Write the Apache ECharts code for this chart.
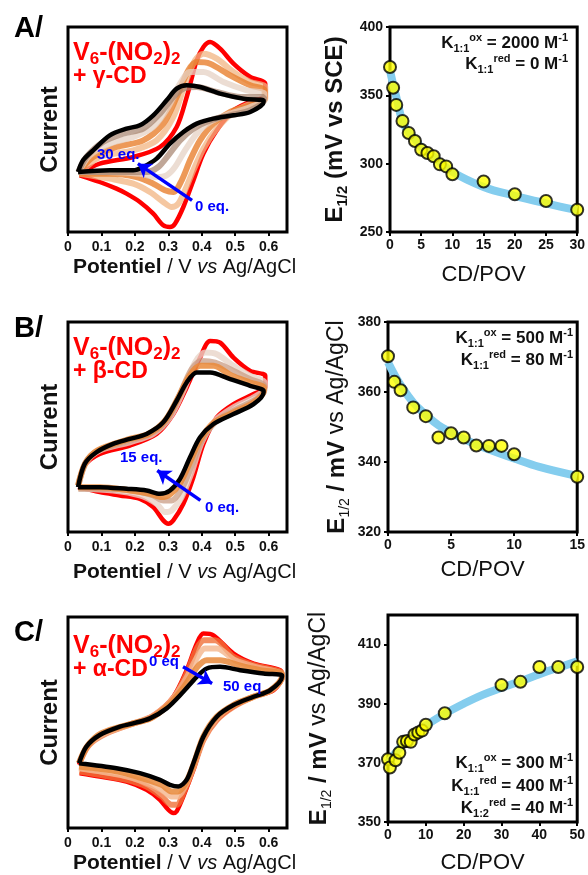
<!DOCTYPE html>
<html>
<head>
<meta charset="utf-8">
<script src="https://cdn.jsdelivr.net/npm/echarts@6/dist/echarts.min.js"></script>
<style>html,body{margin:0;background:#fff}#c{width:588px;height:875px}</style>
</head>
<body>
<div id="c"></div>
<script>
(function(){
var F = '"Liberation Sans", Arial, sans-serif';

// ---- CV curves, [potential V, current a.u.] (upper branch then return) ----
var cvA_red = [[0.035,35],[0.095,41],[0.195,45],[0.275,51],[0.325,63],[0.355,81],[0.385,103],[0.405,111],[0.425,114],[0.455,110],[0.495,101],[0.545,93],[0.59,89],[0.59,81],[0.555,79],[0.495,73],[0.445,61],[0.405,47],[0.375,31],[0.345,15],[0.32,5],[0.305,3],[0.285,4],[0.255,11],[0.215,18],[0.175,23],[0.145,26],[0.095,30],[0.035,34]];
var cvA_m1 = [[0.035,35],[0.095,45],[0.195,49],[0.265,55],[0.315,69],[0.35,89],[0.38,103],[0.405,107],[0.445,104],[0.495,96],[0.545,90],[0.59,87],[0.59,80],[0.545,77],[0.495,72],[0.445,62],[0.405,50],[0.375,37],[0.35,25],[0.33,17],[0.31,15],[0.285,18],[0.245,24],[0.195,29],[0.125,32],[0.035,35]];
var cvA_m2 = [[0.033,36],[0.075,45],[0.145,51],[0.225,55],[0.285,65],[0.325,81],[0.36,97],[0.385,102],[0.425,101],[0.485,94],[0.545,88],[0.588,85],[0.588,80],[0.545,76],[0.485,72],[0.435,65],[0.395,55],[0.365,43],[0.34,31],[0.315,24],[0.29,25],[0.255,29],[0.205,33],[0.125,35],[0.033,35]];
var cvA_m3 = [[0.032,36],[0.065,46],[0.125,53],[0.195,57],[0.255,63],[0.30,75],[0.335,89],[0.365,96],[0.405,96],[0.465,90],[0.535,85],[0.587,83],[0.587,79],[0.545,75],[0.485,71],[0.425,66],[0.385,59],[0.35,49],[0.32,39],[0.295,34],[0.265,33],[0.215,35],[0.125,36],[0.032,36]];
var cvA_m4 = [[0.031,36],[0.055,45],[0.105,54],[0.165,59],[0.225,62],[0.275,71],[0.315,81],[0.345,86],[0.385,87],[0.445,84],[0.515,81],[0.586,81],[0.586,79],[0.545,73],[0.485,70],[0.425,67],[0.375,62],[0.335,55],[0.30,46],[0.27,39],[0.235,36],[0.175,36],[0.095,36],[0.031,36]];
var cvA_black = [[0.03,36],[0.045,43],[0.075,49],[0.125,58],[0.175,62],[0.215,64],[0.255,70],[0.295,79],[0.325,86],[0.355,88],[0.395,87],[0.455,83],[0.525,80],[0.585,79],[0.585,78],[0.545,72],[0.495,70],[0.435,68],[0.385,65],[0.345,60],[0.305,53],[0.265,44],[0.225,39],[0.195,37],[0.125,37],[0.03,36]];

var cvB_red = [[0.03,28],[0.05,40],[0.095,47],[0.185,52],[0.265,59],[0.315,71],[0.355,87],[0.395,105],[0.425,115],[0.455,114],[0.495,105],[0.545,97],[0.59,94],[0.59,87],[0.555,83],[0.495,77],[0.445,69],[0.405,53],[0.375,33],[0.345,17],[0.315,7],[0.30,5],[0.285,7],[0.255,15],[0.215,20],[0.155,22],[0.095,24],[0.03,27]];
var cvB_m1 = [[0.032,29],[0.055,42],[0.095,49],[0.185,54],[0.255,59],[0.305,69],[0.345,85],[0.38,102],[0.41,108],[0.445,107],[0.495,100],[0.545,94],[0.588,90],[0.588,86],[0.555,81],[0.495,75],[0.44,67],[0.40,54],[0.37,36],[0.34,21],[0.31,13],[0.29,12],[0.265,17],[0.215,22],[0.135,25],[0.032,26]];
var cvB_m2 = [[0.031,28],[0.053,42],[0.09,49],[0.185,55],[0.245,59],[0.295,67],[0.335,83],[0.37,98],[0.40,103],[0.44,102],[0.495,97],[0.545,92],[0.587,88],[0.587,85],[0.555,79],[0.495,73],[0.44,66],[0.40,55],[0.37,40],[0.34,26],[0.31,19],[0.285,19],[0.255,22],[0.195,25],[0.095,26],[0.031,26]];
var cvB_m3 = [[0.03,28],[0.051,41],[0.087,49],[0.185,56],[0.24,59],[0.29,67],[0.33,81],[0.363,94],[0.395,100],[0.435,100],[0.49,94],[0.545,90],[0.586,87],[0.586,85],[0.555,78],[0.495,72],[0.437,66],[0.397,56],[0.367,43],[0.337,30],[0.307,23],[0.28,21],[0.245,23],[0.185,25],[0.095,27],[0.03,27]];
var cvB_black = [[0.03,27],[0.05,41],[0.085,48],[0.135,53],[0.185,56],[0.235,59],[0.285,66],[0.325,79],[0.355,90],[0.385,96],[0.425,96],[0.485,92],[0.545,88],[0.585,85],[0.585,84],[0.555,77],[0.495,71],[0.435,65],[0.395,57],[0.365,45],[0.335,32],[0.305,25],[0.275,23],[0.235,25],[0.175,26],[0.095,27],[0.03,27]];

var cvC_red = [[0.033,38],[0.065,51],[0.115,58],[0.195,63],[0.255,68],[0.315,79],[0.355,95],[0.385,111],[0.405,117],[0.435,116],[0.495,105],[0.555,99],[0.635,95],[0.64,91],[0.615,83],[0.555,79],[0.495,73],[0.445,65],[0.405,53],[0.375,35],[0.345,19],[0.325,10],[0.315,9],[0.30,11],[0.275,17],[0.235,23],[0.175,28],[0.095,31],[0.035,33]];
var cvC_m1 = [[0.034,39],[0.063,50],[0.115,57],[0.195,63],[0.255,67],[0.315,78],[0.355,93],[0.385,108],[0.407,113],[0.44,113],[0.495,103],[0.555,98],[0.637,94],[0.64,91],[0.61,83],[0.555,79],[0.495,73],[0.445,65],[0.405,53],[0.375,36],[0.347,22],[0.325,14],[0.31,14],[0.28,19],[0.235,25],[0.175,29],[0.095,32],[0.034,34]];
var cvC_m2 = [[0.033,39],[0.06,50],[0.11,57],[0.195,63],[0.25,67],[0.31,77],[0.353,90],[0.387,103],[0.41,108],[0.445,108],[0.50,101],[0.56,97],[0.638,93],[0.64,91],[0.607,83],[0.555,79],[0.495,74],[0.445,66],[0.405,54],[0.375,37],[0.35,25],[0.328,19],[0.31,19],[0.28,23],[0.225,28],[0.155,32],[0.033,36]];
var cvC_m3 = [[0.033,39],[0.057,49],[0.10,57],[0.195,63],[0.247,66],[0.30,74],[0.347,85],[0.387,97],[0.415,101],[0.455,101],[0.51,98],[0.575,95],[0.639,93],[0.64,91],[0.606,83],[0.555,79],[0.495,74],[0.445,67],[0.405,55],[0.375,38],[0.352,27],[0.33,22],[0.31,22],[0.28,26],[0.22,30],[0.15,34],[0.033,37]];
var cvC_black = [[0.033,39],[0.055,49],[0.095,56],[0.155,61],[0.195,63],[0.245,66],[0.295,72],[0.345,82],[0.385,91],[0.415,96],[0.455,97],[0.515,95],[0.585,93],[0.64,92],[0.64,91],[0.605,83],[0.555,79],[0.495,74],[0.445,67],[0.405,55],[0.375,39],[0.355,29],[0.33,25],[0.305,26],[0.275,29],[0.215,33],[0.145,36],[0.033,39]];

// ---- E1/2 titrations ----
var ptsA_x = [0,0.5,1,2,3,4,5,6,7,8,9,10,15,20,25,30];
var ptsA_y = [370.7,355.6,343,331.2,322.4,316.6,310.2,307.8,305.4,299.5,298,292.2,287,277.6,272.7,266.3];
var fitA_x = [0,0.5,1,2,3,4,5,7,10,15,20,25,30];
var fitA_y = [368,358,349,331,323,318,312,305,294,283,276.5,271,266];

var ptsB_x = [0,0.5,1,2,3,4,5,6,7,8,9,10,15];
var ptsB_y = [370.2,362.9,360.5,355.6,353.1,347,348.2,347,344.7,344.6,344.6,342.2,335.8];
var fitB_x = [0,0.5,1,2,3,4,5,6,7,8,10,12,15];
var fitB_y = [368.5,365,362,357,353.5,350.5,348.5,346.6,345,343.6,341,338.6,336];

var ptsC_x = [0,0.5,2,3,4,5,6,7,8,9,10,15,30,35,40,45,50];
var ptsC_y = [371.2,368.4,370.9,373.4,377.1,377.4,377.1,379.6,380.3,380.9,382.9,386.8,396.3,397.4,402.4,402.4,402.4];
var fitC_x = [0,1,2,5,10,15,20,25,30,35,40,45,50];
var fitC_y = [370,371.8,373.4,377.6,382.6,386.6,390,393,395.4,397.6,400,402.2,404.3];

// arrows (titration direction), data coords of the CV panels
var arrowA = [[0.371,19],[0.209,41]];
var arrowB = [[0.396,19],[0.267,37]];
var arrowC = [[0.344,97],[0.431,87]];

var zip = function(xs, ys){ return xs.map(function(x, i){ return [x, ys[i]]; }); };

var mychart = echarts.init(document.getElementById('c'));

function frame(l, t, w, h){
    return {left:l, top:t, width:w, height:h, show:true, borderColor:'#000', borderWidth:3, backgroundColor:'transparent'};
}
var tick = {show:true, length:4, lineStyle:{color:'#000', width:2}};
var lab = {color:'#111', fontSize:14, fontWeight:'bold', fontFamily:F};

function cvX(gi, gap){
    return {
        gridIndex: gi, type:'value', min:0, max:0.655, interval:0.1,
        axisLine:{show:false}, axisTick:tick, splitLine:{show:false},
        axisLabel: Object.assign({margin:8, showMaxLabel:false, formatter:function(v){ return String(+v.toFixed(1)); }}, lab),
        name:'{b|Potentiel} / V {i|vs} Ag/AgCl', nameLocation:'middle', nameGap:gap,
        nameTextStyle:{color:'#111', fontSize:20, fontFamily:F, padding:[0,0,0,14],
            rich:{b:{fontWeight:'bold', fontSize:21, fontFamily:F, color:'#111'},
                  i:{fontStyle:'italic', fontSize:20, fontFamily:F, color:'#111'}}}
    };
}
function cvY(gi, max){
    return {
        gridIndex: gi, type:'value', min:0, max:max,
        axisLine:{show:false}, axisTick:{show:false}, axisLabel:{show:false}, splitLine:{show:false},
        name:'Current', nameLocation:'middle', nameGap:6,
        nameTextStyle:{color:'#111', fontSize:24, fontWeight:'bold', fontFamily:F}
    };
}
function fX(gi, max, itv, gap){
    return {
        gridIndex: gi, type:'value', min:0, max:max, interval:itv,
        axisLine:{show:false}, axisTick:tick, splitLine:{show:false},
        axisLabel: Object.assign({margin:6}, lab),
        name:'CD/POV', nameLocation:'middle', nameGap:gap,
        nameTextStyle:{color:'#111', fontSize:22, fontFamily:F}
    };
}
var subRich = {
    b:{fontWeight:'bold', fontSize:24, fontFamily:F, color:'#111', lineHeight:30},
    s:{fontSize:14, fontFamily:F, color:'#111', verticalAlign:'bottom', lineHeight:14},
    sb:{fontSize:15, fontWeight:'bold', fontFamily:F, color:'#111', verticalAlign:'bottom', lineHeight:14},
    n:{fontSize:23, fontFamily:F, color:'#111', lineHeight:30}
};
function fY(gi, min, max, itv, name, gap){
    return {
        gridIndex: gi, type:'value', min:min, max:max, interval:itv,
        axisLine:{show:false}, axisTick:tick, splitLine:{show:false},
        axisLabel: Object.assign({margin:7, showMaxLabel: max % itv === min % itv}, lab),
        name:name, nameLocation:'middle', nameGap:gap,
        nameTextStyle:{color:'#111', fontSize:24, fontFamily:F, rich:subRich}
    };
}

function cv(data, gi, color, width, op){
    return {type:'line', xAxisIndex:gi, yAxisIndex:gi, data:data, smooth:0.3, symbol:'none',
        lineStyle:{color:color, width:width, opacity:op}, silent:true, z:2};
}
function arrow(coords, gi){
    return {type:'lines', coordinateSystem:'cartesian2d', xAxisIndex:gi, yAxisIndex:gi,
        symbol:['none','arrow'], symbolSize:13, z:5,
        lineStyle:{color:'#0000FF', width:3.5, opacity:1, curveness:0},
        data:[{coords:coords}]};
}
function fit(xs, ys, gi){
    return {type:'line', xAxisIndex:gi, yAxisIndex:gi, data:zip(xs, ys), smooth:0.4, symbol:'none',
        lineStyle:{color:'#84CDEE', width:8}, z:2};
}
function pts(xs, ys, gi){
    return {type:'scatter', xAxisIndex:gi, yAxisIndex:gi, data:zip(xs, ys), symbolSize:12,
        itemStyle:{color:'#FFFF00', borderColor:'#000', borderWidth:2}, z:3};
}

function txt(x, y, text, rich, align){
    return {type:'text', x:x, y:y, z:10,
        style:{text:text, rich:rich, align:align || 'left', verticalAlign:'middle', fill:'#111', font:'bold 16px ' + F}};
}
var redRich = {
    m:{fontSize:25, fontWeight:'bold', fontFamily:F, fill:'#FF0000', lineHeight:30},
    m2:{fontSize:23, fontWeight:'bold', fontFamily:F, fill:'#FF0000', lineHeight:30},
    s:{fontSize:17, fontWeight:'bold', fontFamily:F, fill:'#FF0000', verticalAlign:'bottom', lineHeight:14}
};
var kRich = {
    k:{fontSize:17, fontWeight:'bold', fontFamily:F, fill:'#111', lineHeight:22},
    s:{fontSize:11, fontWeight:'bold', fontFamily:F, fill:'#111', verticalAlign:'bottom', lineHeight:8},
    p:{fontSize:11, fontWeight:'bold', fontFamily:F, fill:'#111', verticalAlign:'top', lineHeight:10}
};
var blueRich = {e:{fontSize:15, fontWeight:'bold', fontFamily:F, fill:'#0000FF'}};
var letterRich = {l:{fontSize:29, fontWeight:'bold', fontFamily:F, fill:'#000'}};

function panelText(y0, cd){
    return [
        txt(73, y0 + 26, '{m|V}{s|6}{m|-(NO}{s|2}{m|)}{s|2}', redRich),
        txt(73, y0 + 50, '{m2|+ ' + cd + '-CD}', redRich)
    ];
}

option = {
    animation:false,
    backgroundColor:'#fff',
    grid:[frame(68,27,219,205), frame(390,27,191,205),
          frame(68,322,219,210), frame(388,322,193,210),
          frame(68,617,219,211), frame(388,615,193,210)],
    xAxis:[cvX(0,25), fX(1,30,5,32), cvX(2,30), fX(3,15,5,27), cvX(4,25), fX(5,50,10,30)],
    yAxis:[cvY(0,123),
           fY(1,250,400,50,'{b|E}{sb|1/2}{b| (mV vs SCE)}',40),
           cvY(2,126.4),
           fY(3,320,380,20,'{b|E}{s|1/2}{b| / mV }{n|vs Ag/AgCl}',36),
           cvY(4,127),
           fY(5,350,420,20,'{b|E}{s|1/2}{b| / mV }{n|vs Ag/AgCl}',54)],
    series:[
        cv(cvA_red,0,'#FF0000',4.5,1), cv(cvA_m1,0,'#F2B482',6,0.75), cv(cvA_m2,0,'#E8802E',6,0.8),
        cv(cvA_m3,0,'#E6D2C4',6,0.75), cv(cvA_m4,0,'#A5826C',6,0.7), cv(cvA_black,0,'#000',4.5,1),
        arrow(arrowA,0),
        fit(fitA_x,fitA_y,1), pts(ptsA_x,ptsA_y,1),
        cv(cvB_red,2,'#FF0000',4.5,1), cv(cvB_m1,2,'#E8D5C8',6,0.8), cv(cvB_m2,2,'#C99C84',6,0.75),
        cv(cvB_m3,2,'#EA8A3A',6,0.85), cv(cvB_black,2,'#000',4.5,1),
        arrow(arrowB,2),
        fit(fitB_x,fitB_y,3), pts(ptsB_x,ptsB_y,3),
        cv(cvC_red,4,'#FF0000',4.5,1), cv(cvC_m1,4,'#F07038',6,0.8), cv(cvC_m2,4,'#F4B58C',6,0.8),
        cv(cvC_m3,4,'#E8883A',6,0.85), cv(cvC_black,4,'#000',4.5,1),
        arrow(arrowC,4),
        fit(fitC_x,fitC_y,5), pts(ptsC_x,ptsC_y,5)
    ],
    graphic:[].concat(
        [txt(14,29,'{l|A/}',letterRich), txt(14,329,'{l|B/}',letterRich), txt(14,633,'{l|C/}',letterRich)],
        panelText(27,'γ'), panelText(322,'β'), panelText(620,'α'),
        [txt(97,155,'{e|30 eq.}',blueRich), txt(195,207,'{e|0 eq.}',blueRich),
         txt(120,458,'{e|15 eq.}',blueRich), txt(205,508,'{e|0 eq.}',blueRich),
         txt(149,662,'{e|0 eq}',blueRich), txt(223,687,'{e|50 eq}',blueRich)],
        [txt(568,43,'{k|K}{s|1:1}{p|ox}{k| = 2000 M}{p|-1}',kRich,'right'),
         txt(568,64,'{k|K}{s|1:1}{p|red}{k| = 0 M}{p|-1}',kRich,'right'),
         txt(573,338,'{k|K}{s|1:1}{p|ox}{k| = 500 M}{p|-1}',kRich,'right'),
         txt(573,360,'{k|K}{s|1:1}{p|red}{k| = 80 M}{p|-1}',kRich,'right'),
         txt(573,763,'{k|K}{s|1:1}{p|ox}{k| = 300 M}{p|-1}',kRich,'right'),
         txt(573,786,'{k|K}{s|1:1}{p|red}{k| = 400 M}{p|-1}',kRich,'right'),
         txt(573,808,'{k|K}{s|1:2}{p|red}{k| = 40 M}{p|-1}',kRich,'right')]
    )
};
mychart.setOption(option);
})();
</script>
</body>
</html>
